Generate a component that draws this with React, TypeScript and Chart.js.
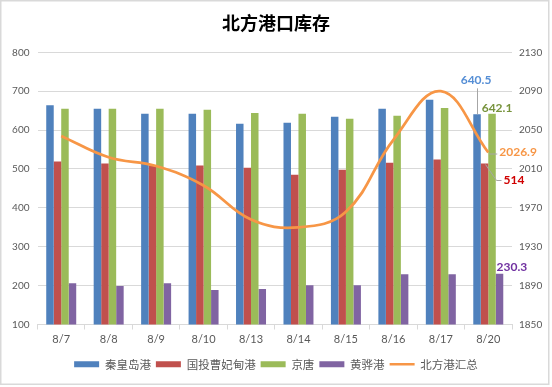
import React, { useEffect, useRef } from 'react';
import { Chart, registerables } from 'chart.js';

Chart.register(...registerables);

const categories = ['8/7', '8/8', '8/9', '8/10', '8/13', '8/14', '8/15', '8/16', '8/17', '8/20'];
const seriesNames = ['秦皇岛港', '国投曹妃甸港', '京唐', '黄骅港', '北方港汇总'];
const qinhuangdao = [664, 655, 642, 642, 616, 619, 634, 655, 678, 640.5];
const caofeidian = [519, 514, 509, 509, 503, 485, 498, 516, 524, 514];
const jingtang = [655, 655, 655, 652, 644, 642, 629, 637, 657, 642.1];
const huanghua = [206, 199, 206, 189, 191, 201, 201, 229, 229, 230.3];
const total = [2044, 2022, 2013, 1993, 1958, 1950, 1966, 2040, 2090, 2026.9];
const leftTicks = { min: 100, max: 800, step: 100 };
const rightTicks = { min: 1850, max: 2130, step: 40 };

const barColors = ['#4F81BD', '#C0504D', '#9BBB59', '#8064A2'];
const lineColor = '#F79646';
const NUM_FONT = "Lato, 'Noto Sans CJK SC', sans-serif";
const CJK_FONT = "'Noto Sans CJK SC', Lato, sans-serif";

const borderPlugin = {
  id: 'bgBorder',
  beforeDraw(chart: any) {
    const ctx = chart.ctx;
    ctx.save();
    ctx.fillStyle = '#ffffff';
    ctx.fillRect(0, 0, chart.width, chart.height);
    ctx.strokeStyle = '#d9d9d9';
    ctx.lineWidth = 1.5;
    ctx.strokeRect(0.75, 0.75, 548, 383.5);
    ctx.restore();
  },
};

const labelPlugin = {
  id: 'lastLabels',
  afterDatasetsDraw(chart: any) {
    const ctx = chart.ctx;
    const last = categories.length - 1;
    const el = (i: number) => chart.getDatasetMeta(i).data[last];
    const blue = el(0), red = el(1), green = el(2), purple = el(3), pt = el(4);
    ctx.save();
    ctx.font = `bold 12px ${NUM_FONT}`;
    ctx.textBaseline = 'middle';
    ctx.strokeStyle = '#a6a6a6';
    ctx.lineWidth = 1;

    ctx.beginPath();
    ctx.moveTo(Math.round(blue.x) + 0.5, blue.y - 26);
    ctx.lineTo(Math.round(blue.x) + 0.5, blue.y);
    ctx.stroke();
    ctx.fillStyle = '#558ED5';
    ctx.textAlign = 'center';
    ctx.fillText(String(qinhuangdao[last]), blue.x - 1, blue.y - 34);

    ctx.fillStyle = '#77933C';
    ctx.textAlign = 'center';
    ctx.fillText(String(jingtang[last]), green.x + 5, green.y - 6);

    ctx.beginPath();
    ctx.moveTo(pt.x + 1, pt.y + 1.5);
    ctx.lineTo(pt.x + 9, pt.y + 1.5);
    ctx.stroke();
    ctx.fillStyle = lineColor;
    ctx.textAlign = 'left';
    ctx.fillText(String(total[last]), pt.x + 11, pt.y);

    ctx.beginPath();
    ctx.moveTo(red.x + 1, red.y + 1);
    ctx.lineTo(red.x + 12, red.y + 17);
    ctx.lineTo(red.x + 17, red.y + 17);
    ctx.stroke();
    ctx.fillStyle = '#D00000';
    ctx.textAlign = 'left';
    ctx.fillText(String(caofeidian[last]), red.x + 19, red.y + 17);

    ctx.fillStyle = '#7030A0';
    ctx.textAlign = 'left';
    ctx.fillText(String(huanghua[last]), purple.x - 3, purple.y - 7);
    ctx.restore();
  },
};

export default function App() {
  const ref = useRef<HTMLCanvasElement | null>(null);

  useEffect(() => {
    if (!ref.current) return;
    const barSets = [qinhuangdao, caofeidian, jingtang, huanghua].map((d, i) => ({
      type: 'bar' as const,
      label: seriesNames[i],
      data: d,
      backgroundColor: barColors[i],
      borderWidth: 0,
      yAxisID: 'y',
      categoryPercentage: 0.632,
      barPercentage: 1,
      order: 1,
    }));
    const chart = new Chart(ref.current, {
      type: 'bar',
      data: {
        labels: categories,
        datasets: [
          ...barSets,
          {
            type: 'line' as const,
            label: seriesNames[4],
            data: total,
            borderColor: lineColor,
            backgroundColor: lineColor,
            borderWidth: 2.75,
            pointRadius: 0,
            tension: 0.4,
            fill: false,
            yAxisID: 'y1',
            order: 0,
          } as any,
        ],
      },
      options: {
        responsive: false,
        animation: false,
        devicePixelRatio: 1,
        layout: { padding: { left: 0, right: 0, top: 0, bottom: 7 } },
        plugins: {
          tooltip: { enabled: false },
          title: {
            display: true,
            text: '北方港口库存',
            color: '#000000',
            font: { family: CJK_FONT, size: 18, weight: 'bold' },
            padding: { top: 12, bottom: 18.7 },
          },
          legend: {
            display: true,
            position: 'bottom',
            labels: {
              usePointStyle: true,
              pointStyleWidth: 25,
              boxHeight: 6,
              padding: 5,
              color: '#595959',
              font: { family: CJK_FONT, size: 11.5 },
              generateLabels: () =>
                seriesNames.map((name, i) => {
                  const isLine = i === 4;
                  return {
                    text: name,
                    fillStyle: isLine ? lineColor : barColors[i],
                    strokeStyle: isLine ? lineColor : barColors[i],
                    lineWidth: isLine ? 2.5 : 0,
                    pointStyle: isLine ? 'line' : 'rect',
                    fontColor: '#595959',
                    hidden: false,
                    datasetIndex: i,
                  } as any;
                }),
            },
          },
        },
        scales: {
          x: {
            grid: {
              display: true,
              drawOnChartArea: false,
              drawTicks: true,
              tickLength: 5,
              color: '#d9d9d9',
              offset: true,
            },
            border: { display: true, color: '#d9d9d9' },
            ticks: {
              color: '#595959',
              font: { family: NUM_FONT, size: 11 },
              padding: 3,
              maxRotation: 0,
              autoSkip: false,
            },
            afterFit: (s: any) => {
              s.height = 29;
            },
          },
          y: {
            position: 'left',
            min: leftTicks.min,
            max: leftTicks.max,
            ticks: {
              stepSize: leftTicks.step,
              color: '#595959',
              font: { family: NUM_FONT, size: 10 },
              padding: 8,
              callback: (v: any) => String(v),
            },
            grid: { color: '#d9d9d9', drawTicks: false },
            border: { display: false },
            afterFit: (s: any) => {
              s.width = 37.5;
            },
          },
          y1: {
            position: 'right',
            min: rightTicks.min,
            max: rightTicks.max,
            ticks: {
              stepSize: rightTicks.step,
              color: '#595959',
              font: { family: NUM_FONT, size: 10 },
              padding: 7,
              callback: (v: any) => String(v),
            },
            grid: { drawOnChartArea: false, drawTicks: false },
            border: { display: false },
            afterFit: (s: any) => {
              s.width = 40;
            },
          },
        },
      } as any,
      plugins: [borderPlugin, labelPlugin],
    });
    return () => chart.destroy();
  }, []);

  return (
    <div style={{ position: 'fixed', left: 0, top: 0, width: 552, height: 387, background: '#fff' }}>
      <canvas ref={ref} width={552} height={387} style={{ display: 'block', width: 552, height: 387 }} />
    </div>
  );
}
